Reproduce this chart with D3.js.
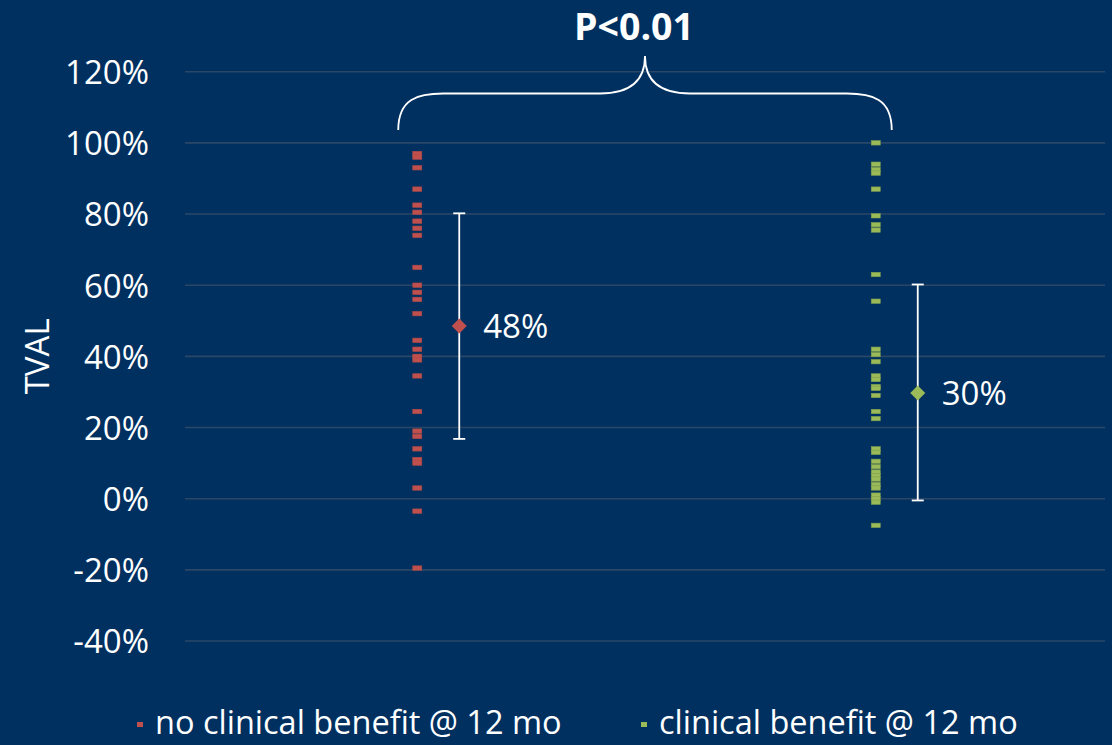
<!DOCTYPE html>
<html>
<head>
<meta charset="utf-8">
<script src="https://cdn.jsdelivr.net/npm/d3@7"></script>
<style>
  html, body { margin: 0; padding: 0; background: #003060; }
  svg { display: block; font-family: "Open Sans", "Liberation Sans", sans-serif; }
</style>
</head>
<body>
<svg id="chart" width="1112" height="745"></svg>
<script>
// ---- data ----
const categories = ["no clinical benefit @ 12 mo", "clinical benefit @ 12 mo"];
const colors = ["#C0504D", "#9BBB59"];
const noBenefitValues = [97, 96, 93, 87, 82.5, 80.5, 78, 76, 74, 65, 60, 58, 56, 52, 44.5, 42, 40, 39, 34.5, 24.5, 19, 17.5, 14, 11, 10, 3, -3.5, -19.5];
const benefitValues = [100, 94, 92.5, 91.5, 87, 79.5, 77, 75.5, 63, 55.5, 42, 40.5, 38.5, 34.5, 33.5, 31.5, 31, 29, 24.5, 22.5, 14, 13, 10.5, 9, 7.5, 6.5, 5.5, 4, 3, 1, 0, -1, -7.5];
const summaryMean = [48.5, 29.7];
const summaryLow = [16.8, -0.5];
const summaryHigh = [80.2, 60.2];
const summaryLabels = ["48%", "30%"];
const yTicks = [-40, -20, 0, 20, 40, 60, 80, 100, 120];
const yTitle = "TVAL";
const pLabel = "P<0.01";

const seriesValues = [noBenefitValues, benefitValues];

// ---- layout ----
const svg = d3.select("#chart");
const plot = { left: 188, right: 1105, top: 71.7, bottom: 641 };
const fs = 33;

const x = d3.scaleBand().domain(categories).range([plot.left, plot.right]).paddingInner(0).paddingOuter(0);
const y = d3.scaleLinear().domain([-40, 120]).range([plot.bottom, plot.top]);
const cx = c => x(c) + x.bandwidth() / 2;

// gridlines
svg.append("g").selectAll("line").data(yTicks).join("line")
  .attr("x1", plot.left - 3).attr("x2", plot.right)
  .attr("y1", d => y(d)).attr("y2", d => y(d))
  .attr("stroke", "#2A4767").attr("stroke-width", 1.6);

// y-axis labels via axis
const yAxis = d3.axisLeft(y).tickValues(yTicks).tickFormat(d => d + "%").tickSize(0).tickPadding(0);
const ga = svg.append("g").attr("transform", `translate(149,0)`).call(yAxis);
ga.select(".domain").remove();
ga.selectAll("text").attr("fill", "#ffffff").attr("font-size", fs)
  .attr("font-family", "'Open Sans', sans-serif").attr("dy", "0.36em");

// y title
svg.append("text")
  .attr("transform", `translate(49, ${y(40)}) rotate(-90)`)
  .attr("text-anchor", "middle").attr("fill", "#fff").attr("font-size", fs)
  .text(yTitle);

// points
seriesValues.forEach((vals, i) => {
  const c = categories[i];
  svg.append("g").selectAll("rect").data(vals).join("rect")
    .attr("x", cx(c) - 4.5).attr("y", d => y(d) - 2.2)
    .attr("width", 9).attr("height", 4.4)
    .attr("fill", colors[i])
    .attr("stroke", i === 0 ? "#B04A48" : "#7E9E4E").attr("stroke-width", 0.6);
});

// error bars + means
const offset = 42;
categories.forEach((c, i) => {
  const ex = cx(c) + offset;
  const g = svg.append("g");
  g.append("line").attr("x1", ex).attr("x2", ex)
    .attr("y1", y(summaryHigh[i])).attr("y2", y(summaryLow[i]))
    .attr("stroke", "#fff").attr("stroke-width", 1.8);
  [summaryHigh[i], summaryLow[i]].forEach(v => {
    g.append("line").attr("x1", ex - 6).attr("x2", ex + 6)
      .attr("y1", y(v)).attr("y2", y(v))
      .attr("stroke", "#fff").attr("stroke-width", 1.8);
  });
  g.append("rect")
    .attr("x", -5.3).attr("y", -5.3).attr("width", 10.6).attr("height", 10.6)
    .attr("transform", `translate(${ex},${y(summaryMean[i])}) rotate(45)`)
    .attr("fill", colors[i]);
  g.append("text")
    .attr("x", ex + 24).attr("y", y(summaryMean[i]))
    .attr("dy", "0.36em").attr("fill", "#fff").attr("font-size", fs)
    .text(summaryLabels[i]);
});

// brace
const bx0 = cx(categories[0]) - 19;
const bx1 = cx(categories[1]) + 16;
const bmid = (bx0 + bx1) / 2;
const byEnd = 130, byMid = 93.5, byTip = 56;
const r = 45;
const bracePath = `M${bx0},${byEnd}
  C${bx0},${byMid + 5} ${bx0 + 20},${byMid} ${bx0 + r},${byMid}
  L${bmid - r},${byMid}
  C${bmid - 15},${byMid} ${bmid},${byMid - 12} ${bmid},${byTip}
  C${bmid},${byMid - 12} ${bmid + 15},${byMid} ${bmid + r},${byMid}
  L${bx1 - r},${byMid}
  C${bx1 - 20},${byMid} ${bx1},${byMid + 5} ${bx1},${byEnd}`;
svg.append("path").attr("d", bracePath)
  .attr("fill", "none").attr("stroke", "#fff").attr("stroke-width", 1.8);

svg.append("text")
  .attr("x", bmid - 11).attr("y", 40)
  .attr("text-anchor", "middle").attr("fill", "#fff")
  .attr("font-size", 37.5).attr("font-weight", "bold")
  .text(pLabel);

// legend
const legendX = [137, 641];
categories.forEach((c, i) => {
  svg.append("rect").attr("x", legendX[i]).attr("y", 722)
    .attr("width", 6).attr("height", 5).attr("fill", colors[i]);
  svg.append("text").attr("x", legendX[i] + 18).attr("y", 734)
    .attr("fill", "#fff").attr("font-size", 32.5)
    .text(c);
});
</script>
</body>
</html>
